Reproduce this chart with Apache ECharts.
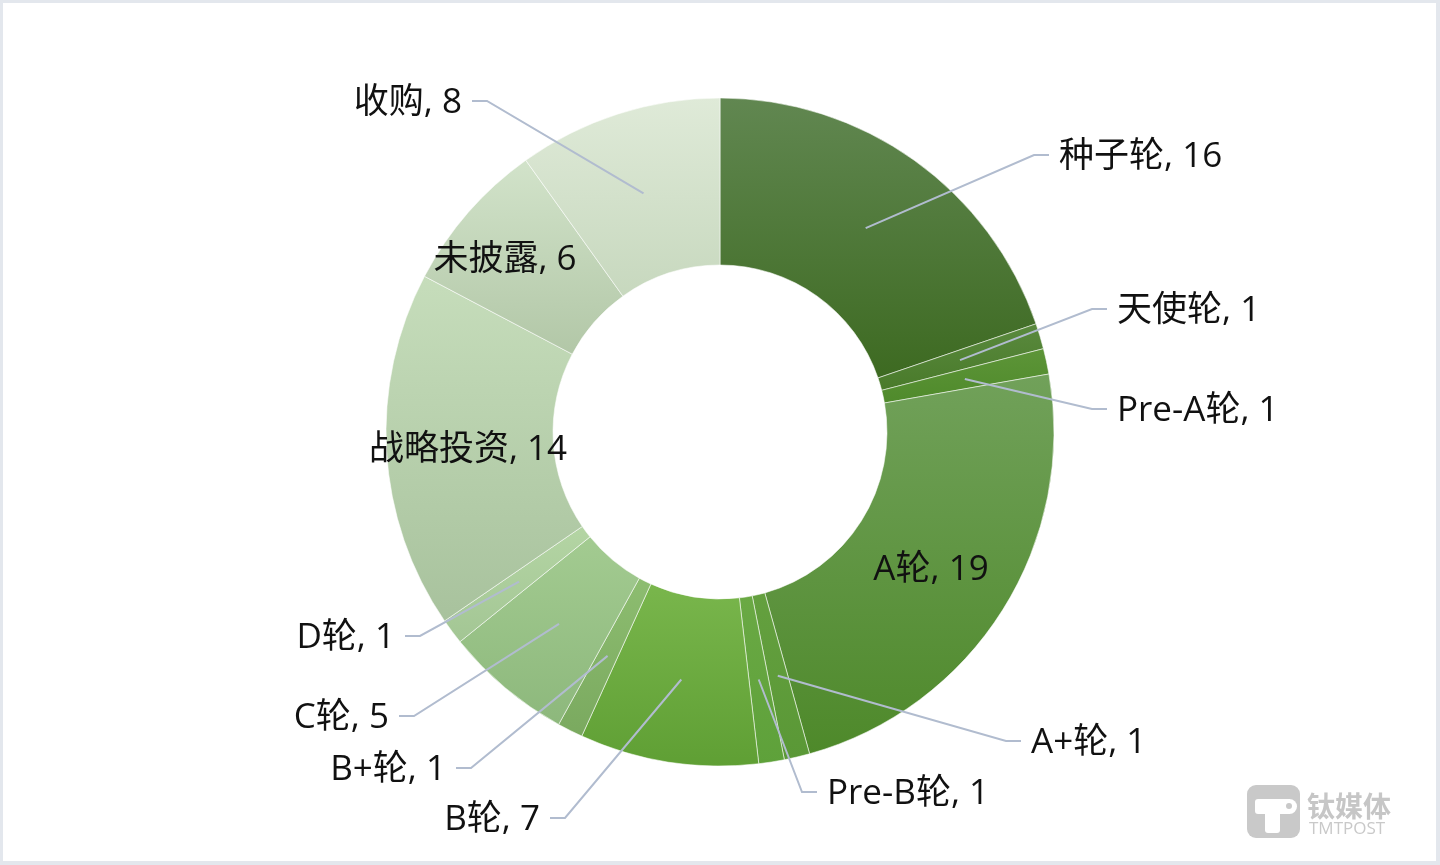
<!DOCTYPE html>
<html>
<head>
<meta charset="utf-8">
<script src="https://cdn.jsdelivr.net/npm/echarts@6/dist/echarts.min.js"></script>
<style>
  html, body { margin: 0; padding: 0; background: #ffffff; }
  #chart { position: absolute; left: 0; top: 0; width: 1440px; height: 865px; background: #ffffff; }
  #frame { position: absolute; left: 0; top: 0; width: 1440px; height: 865px; box-sizing: border-box;
           border-style: solid; border-color: #e3e7ed; border-width: 3px 4px 4px 3px; pointer-events: none; }
</style>
</head>
<body>
<div id="chart"></div>
<div id="frame"></div>
<script>
// ---- data ----
const categories = ['种子轮', '天使轮', 'Pre-A轮', 'A轮', 'A+轮', 'Pre-B轮', 'B轮', 'B+轮', 'C轮', 'D轮', '战略投资', '未披露', '收购'];
const counts = [16, 1, 1, 19, 1, 1, 7, 1, 5, 1, 14, 6, 8];

// ---- styles ----
const topColors    = ['#618751', '#5a8a3e', '#5d9538', '#71a15a', '#64a03f', '#6aa944', '#79b64c', '#8dbd70', '#a3cb91', '#b4d5a4', '#c6ddbb', '#d2e3ca', '#dfead8'];
const bottomColors = ['#3d6a21', '#497a2a', '#4f8a2b', '#4e892a', '#5a9836', '#5ea13a', '#5f9f34', '#7aa95f', '#8db87c', '#a3c694', '#a8c29d', '#b2c7a7', '#c7d8be'];

// label anchor layout: [x, y, side]; side 'r' => text right of line end, 'l' => text left, 'c' => inside
const labelAnchors = [
  [1049, 155, 'r'],
  [1107, 309, 'r'],
  [1107, 409, 'r'],
  [931, 568, 'c'],
  [1021, 741, 'r'],
  [817, 792, 'r'],
  [550, 818, 'l'],
  [456, 768, 'l'],
  [399, 716, 'l'],
  [405, 636, 'l'],
  [468, 448, 'c'],
  [505, 258, 'c'],
  [472, 101, 'l']
];

const CX = 720, CY = 432, R0 = 167, R1 = 334;
const elbow = 15, gap = 10, textDy = 2;

function grad(i) {
  return new echarts.graphic.LinearGradient(0, 0, 0, 1, [
    { offset: 0, color: topColors[i] },
    { offset: 1, color: bottomColors[i] }
  ]);
}

const ringData = categories.map((name, i) => ({
  name: name, value: counts[i],
  itemStyle: { color: grad(i) }
}));

const overlayData = categories.map((name, i) => ({
  name: name, value: counts[i],
  labelLine: { show: labelAnchors[i][2] !== 'c' }
}));

const chart = echarts.init(document.getElementById('chart'), null, { renderer: 'canvas' });

const option = {
  animation: false,
  backgroundColor: 'transparent',
  series: [
    {
      type: 'pie',
      center: [CX, CY],
      radius: [R0, R1],
      startAngle: 90,
      clockwise: true,
      silent: true,
      label: { show: false },
      labelLine: { show: false },
      itemStyle: { borderColor: 'rgba(255,255,255,0.55)', borderWidth: 1 },
      emphasis: { disabled: true },
      data: ringData,
      z: 1
    },
    {
      type: 'pie',
      center: [CX, CY],
      radius: [0, (R0 + R1) / 2],
      startAngle: 90,
      clockwise: true,
      silent: true,
      avoidLabelOverlap: false,
      itemStyle: { color: 'rgba(0,0,0,0)' },
      emphasis: { disabled: true },
      label: {
        show: true,
        position: 'outside',
        formatter: '{b}, {c}',
        fontFamily: '"Open Sans", "Noto Sans CJK SC", sans-serif',
        fontSize: 35,
        color: '#111111'
      },
      labelLine: {
        show: true,
        length: 10,
        length2: 10,
        lineStyle: { color: '#b1bccf', width: 2 }
      },
      labelLayout: function (params) {
        const a = labelAnchors[params.dataIndex];
        if (a[2] === 'c') {
          return { x: a[0], y: a[1] + textDy, align: 'center', verticalAlign: 'middle' };
        }
        const start = params.labelLinePoints ? params.labelLinePoints[0] : [a[0], a[1]];
        const dir = a[2] === 'r' ? 1 : -1;
        return {
          x: a[0] + dir * gap,
          y: a[1] + textDy,
          align: a[2] === 'r' ? 'left' : 'right',
          verticalAlign: 'middle',
          labelLinePoints: [
            [start[0], start[1]],
            [a[0] - dir * elbow, a[1]],
            [a[0], a[1]]
          ]
        };
      },
      data: overlayData,
      z: 5
    }
  ],
  graphic: [
    { type: 'rect', shape: { x: 1247, y: 785, width: 53, height: 53, r: 9 }, style: { fill: '#c9c9c9' }, z: 10 },
    { type: 'rect', shape: { x: 1255, y: 799, width: 42, height: 15, r: [3, 7.5, 7.5, 3] }, style: { fill: '#ffffff' }, z: 11 },
    { type: 'rect', shape: { x: 1265, y: 805, width: 15, height: 28, r: [0, 0, 3, 3] }, style: { fill: '#ffffff' }, z: 11 },
    { type: 'circle', shape: { cx: 1289, cy: 806, r: 3 }, style: { fill: '#c9c9c9' }, z: 12 },
    { type: 'text', style: { x: 1307, y: 806, text: '钛媒体', fill: '#c6c6c6', font: 'bold 28px "Noto Sans CJK SC"', textVerticalAlign: 'middle' }, z: 10 },
    { type: 'text', style: { x: 1309, y: 829, text: 'TMTPOST', fill: '#c9c9c9', font: '17px "Open Sans", sans-serif', textVerticalAlign: 'middle' }, z: 10 }
  ]
};

chart.setOption(option);
</script>
</body>
</html>
